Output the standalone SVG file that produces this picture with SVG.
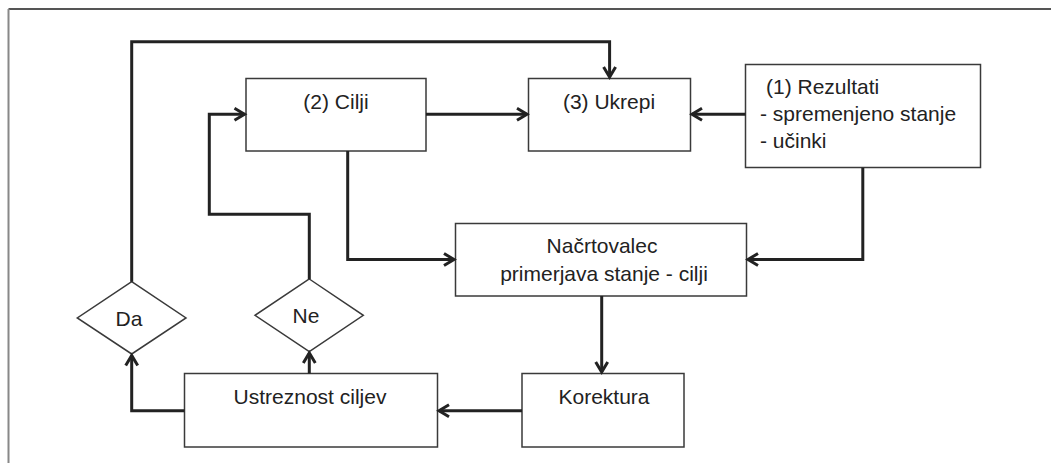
<svg xmlns="http://www.w3.org/2000/svg" width="1051" height="463" viewBox="0 0 1051 463">
<style>
.box{fill:#fff;stroke:#3a3a3a;stroke-width:1.5}
.c{fill:none;stroke:#222;stroke-width:3;stroke-linejoin:miter}
.ah{fill:none;stroke:#222;stroke-width:3;stroke-linecap:butt;stroke-linejoin:miter}
text{font-family:"Liberation Sans",Arial,sans-serif;font-size:21px;fill:#222}
.m{text-anchor:middle}
</style>
<rect width="1051" height="463" fill="#fff"/>
<g id="frame">
<line x1="8.5" y1="9" x2="1051" y2="9" stroke="#555" stroke-width="2"/>
<line x1="8.5" y1="9" x2="8.5" y2="463" stroke="#888" stroke-width="2"/>
</g>
<g id="n-cilji"><rect class="box" x="246" y="78.5" width="180" height="72.5"/><text class="m" x="336" y="109">(2) Cilji</text></g>
<g id="n-ukrepi"><rect class="box" x="528.5" y="78.5" width="162" height="72.5"/><text class="m" x="609" y="109">(3) Ukrepi</text></g>
<g id="n-rezultati"><rect class="box" x="745.5" y="64.5" width="235" height="103"/>
<text x="766" y="94">(1) Rezultati</text><text x="760" y="121">- spremenjeno stanje</text><text x="760" y="148">- učinki</text></g>
<g id="n-nacrtovalec"><rect class="box" x="455.5" y="223.5" width="291" height="72.5"/>
<text class="m" x="602" y="253">Načrtovalec</text><text class="m" x="604" y="281">primerjava stanje - cilji</text></g>
<g id="n-korektura"><rect class="box" x="522" y="373.5" width="162" height="73.5"/><text class="m" x="604" y="404">Korektura</text></g>
<g id="n-ustreznost"><rect class="box" x="184.5" y="373.5" width="253" height="73.5"/><text class="m" x="310" y="404">Ustreznost ciljev</text></g>
<g id="n-da"><polygon class="box" points="131.7,281.7 186,318 131.7,354 77.3,318"/><text class="m" x="129" y="326">Da</text></g>
<g id="n-ne"><polygon class="box" points="309.3,279 363.3,315.3 309.3,351.7 255,315.3"/><text class="m" x="306" y="323">Ne</text></g>
<g id="connectors">
<polyline class="c" points="131.7,281.7 131.7,41.7 609.6,41.7 609.6,77"/>
<polyline class="ah" points="603.6,67 609.6,77 615.6,67"/>
<polyline class="c" points="309.3,279 309.3,214.3 209.3,214.3 209.3,114.3 244.5,114.3"/>
<polyline class="ah" points="234.5,108.3 244.5,114.3 234.5,120.3"/>
<line class="c" x1="426" y1="114.3" x2="527" y2="114.3"/>
<polyline class="ah" points="517,108.3 527,114.3 517,120.3"/>
<line class="c" x1="745.5" y1="114.3" x2="692" y2="114.3"/>
<polyline class="ah" points="702,108.3 692,114.3 702,120.3"/>
<polyline class="c" points="347.7,151 347.7,259.5 454,259.5"/>
<polyline class="ah" points="444,253.5 454,259.5 444,265.5"/>
<polyline class="c" points="862.8,167.7 862.8,259.5 748,259.5"/>
<polyline class="ah" points="758,253.5 748,259.5 758,265.5"/>
<line class="c" x1="601.7" y1="296" x2="601.7" y2="372"/>
<polyline class="ah" points="595.7,362 601.7,372 607.7,362"/>
<line class="c" x1="522" y1="410.7" x2="439" y2="410.7"/>
<polyline class="ah" points="449,404.7 439,410.7 449,416.7"/>
<polyline class="c" points="184.5,410.7 131.7,410.7 131.7,355.5"/>
<polyline class="ah" points="125.7,365.5 131.7,355.5 137.7,365.5"/>
<line class="c" x1="309.3" y1="373.5" x2="309.3" y2="353"/>
<polyline class="ah" points="303.3,363 309.3,353 315.3,363"/>
</g>
</svg>
